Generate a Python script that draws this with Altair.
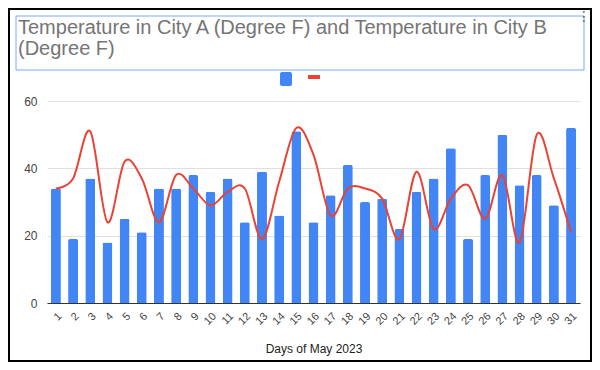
import altair as alt
import pandas as pd

days = [str(d) for d in range(1, 32)]
city_a = [34, 19, 37, 18, 25, 21, 34, 34, 38, 33, 37, 24, 39, 26, 51, 24,
          32, 41, 30, 31, 22, 33, 37, 46, 19, 38, 50, 35, 38, 29, 52]
city_b = [34, 37, 51, 24, 42, 37, 24, 38, 34, 29, 33, 34, 19, 36, 52, 44,
          26, 34, 34, 31, 19, 39, 22, 31, 35, 25, 38, 18, 50, 37, 21]
y_ticks = [0, 20, 40, 60]
title_lines = ["Temperature in City A (Degree F) and Temperature in City B", "(Degree F)"]
x_title = "Days of May 2023"

df = pd.DataFrame({"day": days, "City A": city_a, "City B": city_b})

W, H = 533, 202
PL, PT, PR, PB = 39, 93, 12, 59
FONT = "Liberation Sans"

x_axis = alt.Axis(labelAngle=-45, labelFontSize=11, labelColor="#444444", labelFont=FONT,
                  labelPadding=7, ticks=False, domainColor="#333333", domainWidth=1.2,
                  titleFont=FONT, titleFontSize=12, titleFontWeight="normal", titleColor="#222222",
                  titleBaseline="alphabetic", titleY=49, grid=False)
x_enc = alt.X("day:N", sort=days, title=x_title,
              scale=alt.Scale(paddingInner=0.42, paddingOuter=0.23), axis=x_axis)
y_axis = alt.Axis(values=y_ticks, labelFontSize=12, labelColor="#444444", labelFont=FONT,
                  labelPadding=10, ticks=False, domain=False, gridColor="#e0e0e0", gridWidth=1)
y_scale = alt.Scale(domain=[0, 60])

bars = alt.Chart(df).mark_bar(color="#4285f4", cornerRadiusEnd=2).encode(
    x=x_enc, y=alt.Y("City A:Q", scale=y_scale, axis=y_axis, title=None))
line = alt.Chart(df).mark_line(color="#ea4335", strokeWidth=2, interpolate="cardinal").encode(
    x=x_enc, y=alt.Y("City B:Q", scale=y_scale, axis=y_axis, title=None))

one = alt.Data(values=[{}])
frame = alt.Chart(one).mark_rect(fill="white", fillOpacity=0, stroke="black", strokeWidth=4).encode(
    x=alt.value(-PL), x2=alt.value(W + PR), y=alt.value(-PT), y2=alt.value(H + PB))
title_box = alt.Chart(one).mark_rect(fill="white", fillOpacity=0, stroke="#7baaf7", strokeWidth=1).encode(
    x=alt.value(-31), x2=alt.value(537), y=alt.value(-85), y2=alt.value(-31))
title = alt.Chart(one).mark_text(text=title_lines, align="left", baseline="alphabetic", fontSize=20,
                                 lineHeight=21, font=FONT, color="#757575").encode(
    x=alt.value(-29), y=alt.value(-67))
leg_a = alt.Chart(one).mark_rect(color="#4285f4", cornerRadius=2).encode(
    x=alt.value(233), x2=alt.value(245), y=alt.value(-29), y2=alt.value(-15))
leg_b = alt.Chart(one).mark_rect(color="#ea4335").encode(
    x=alt.value(261), x2=alt.value(273), y=alt.value(-26), y2=alt.value(-22))
kebab = alt.Chart(one).mark_text(text="⋮", align="center", baseline="middle", fontSize=14,
                                 font="DejaVu Sans", color="#5f6368").encode(
    x=alt.value(537), y=alt.value(-84))

chart = alt.layer(bars, line, frame, title_box, title, leg_a, leg_b, kebab).properties(
    width=W, height=H,
    autosize=alt.AutoSizeParams(type="none"),
    padding={"left": PL, "top": PT, "right": PR, "bottom": PB},
    background="white",
).configure_view(strokeWidth=0)

chart.save("out.html", embed_options={"renderer": "svg", "actions": False})
